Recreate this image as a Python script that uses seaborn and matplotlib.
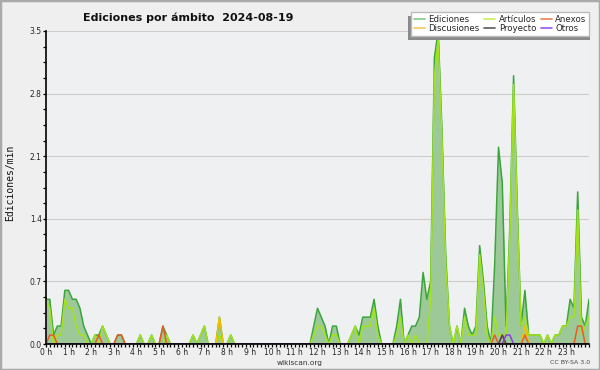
import numpy as np
import pandas as pd
import matplotlib
matplotlib.use('Agg')
import matplotlib.pyplot as plt
from matplotlib.lines import Line2D
from matplotlib.patches import Rectangle
from matplotlib.ticker import MultipleLocator
import seaborn as sns

# Edits per minute, one value every 10 minutes, 0:00 .. 24:00 (145 points).
ediciones = [
    0.5, 0.5, 0.1, 0.2, 0.2, 0.6,    # 0 h
    0.6, 0.5, 0.5, 0.4, 0.2, 0.1,    # 1 h
    0, 0.1, 0.1, 0.2, 0.1, 0,        # 2 h
    0, 0.1, 0.1, 0, 0, 0,            # 3 h
    0, 0.1, 0, 0, 0.1, 0,            # 4 h
    0, 0.2, 0.1, 0, 0, 0,            # 5 h
    0, 0, 0, 0.1, 0, 0.1,            # 6 h
    0.2, 0, 0, 0, 0.3, 0,            # 7 h
    0, 0.1, 0, 0, 0, 0,              # 8 h
    0, 0, 0, 0, 0, 0,                # 9 h
    0, 0, 0, 0, 0, 0,                # 10 h
    0, 0, 0, 0, 0, 0.2,              # 11 h
    0.4, 0.3, 0.2, 0, 0.2, 0.2,      # 12 h
    0, 0, 0, 0.1, 0.2, 0.1,          # 13 h
    0.3, 0.3, 0.3, 0.5, 0.2, 0,      # 14 h
    0, 0, 0, 0.2, 0.5, 0,            # 15 h
    0.1, 0.2, 0.2, 0.3, 0.8, 0.5,    # 16 h
    0.7, 3.2, 3.5, 2.4, 1.0, 0.2,    # 17 h
    0, 0.2, 0, 0.4, 0.2, 0.1,        # 18 h
    0.2, 1.1, 0.7, 0.2, 0, 0.9,      # 19 h
    2.2, 1.8, 0.2, 1.3, 3.0, 1.5,    # 20 h
    0.2, 0.6, 0.1, 0.1, 0.1, 0.1,    # 21 h
    0, 0.1, 0, 0.1, 0.1, 0.2,        # 22 h
    0.2, 0.5, 0.4, 1.7, 0.3, 0.2,    # 23 h
    0.5,
]

articulos = [
    0.5, 0.4, 0, 0.1, 0.1, 0.5,
    0.4, 0.4, 0.2, 0.1, 0.1, 0,
    0, 0.1, 0, 0.2, 0.1, 0,
    0, 0, 0, 0, 0, 0,
    0, 0.1, 0, 0, 0.1, 0,
    0, 0, 0.1, 0, 0, 0,
    0, 0, 0, 0.1, 0, 0.1,
    0.2, 0, 0, 0, 0.1, 0,
    0, 0.1, 0, 0, 0, 0,
    0, 0, 0, 0, 0, 0,
    0, 0, 0, 0, 0, 0,
    0, 0, 0, 0, 0, 0.1,
    0.2, 0.2, 0.1, 0, 0.1, 0.1,
    0, 0, 0, 0.1, 0.2, 0,
    0.2, 0.2, 0.2, 0.4, 0.1, 0,
    0, 0, 0, 0.1, 0.3, 0,
    0.1, 0, 0.1, 0, 0, 0,
    0.5, 3.0, 3.4, 2.3, 0.9, 0.2,
    0, 0.2, 0, 0.3, 0.1, 0.1,
    0.1, 1.0, 0.6, 0.1, 0, 0.3,
    0.1, 0.1, 0.1, 1.2, 2.9, 1.4,
    0.2, 0.3, 0.1, 0.1, 0.1, 0.1,
    0, 0.1, 0, 0.1, 0.1, 0.2,
    0.2, 0.3, 0.3, 1.5, 0.1, 0.2,
    0.3,
]

# sparse series: slot index (10 min) and value
anexos_slots = [1, 2, 14, 19, 20, 31, 119, 121, 127, 141, 142]
anexos_vals = [0.1, 0.1, 0.1, 0.1, 0.1, 0.2, 0.1, 0.1, 0.1, 0.2, 0.2]
discusiones_slots = [46, 127]
discusiones_vals = [0.3, 0.2]
proyecto_slots = [121]
proyecto_vals = [0.1]
otros_slots = [122, 123]
otros_vals = [0.1, 0.1]

hour_labels = [f'{h} h' for h in range(24)]
y_ticks = [0.0, 0.7, 1.4, 2.1, 2.8, 3.5]

palette = {
    'Ediciones': '#3aa53a',
    'Artículos': '#a2e31c',
    'Discusiones': '#f2c200',
    'Anexos': '#ec5a24',
    'Proyecto': '#4a4a4a',
    'Otros': '#8a3ee0',
}
legend_colors = {
    'Ediciones': '#80cc80',
    'Artículos': '#c9ee55',
    'Anexos': '#f08050',
    'Discusiones': '#f2cc55',
    'Proyecto': '#5a5a5a',
    'Otros': '#9a55f0',
}


def _sparse(slots, vals, n):
    out = np.zeros(n)
    out[slots] = vals
    return out


n = len(ediciones)
hora = np.arange(n) / 6.0
wide = pd.DataFrame({
    'hora': hora,
    'Ediciones': ediciones,
    'Artículos': articulos,
    'Discusiones': _sparse(discusiones_slots, discusiones_vals, n),
    'Anexos': _sparse(anexos_slots, anexos_vals, n),
    'Proyecto': _sparse(proyecto_slots, proyecto_vals, n),
    'Otros': _sparse(otros_slots, otros_vals, n),
})
df = wide.melt(id_vars='hora', var_name='serie', value_name='valor')
draw_order = ['Ediciones', 'Artículos', 'Discusiones', 'Anexos', 'Proyecto', 'Otros']

sns.set_theme(style='ticks')
plt.rcParams['font.family'] = ['DejaVu Sans']

fig = plt.figure(figsize=(6, 3.7), dpi=100)
fig.patch.set_facecolor('#efefef')
ax = fig.add_axes([46 / 600, 26 / 370, 543 / 600, 313 / 370])
ax.set_facecolor('#eff0f1')
ax.set_axisbelow(True)

# filled area under total edits
ax.fill_between(wide['hora'], wide['Ediciones'], color='#9dc998', lw=0, zorder=1)

sns.lineplot(data=df, x='hora', y='valor', hue='serie', hue_order=draw_order,
             palette=palette, linewidth=1.1, legend=False, errorbar=None,
             sort=False, ax=ax)

ax.set_xlim(0, 24)
ax.set_ylim(0, 3.5)
ax.set_xlabel('')
ax.set_ylabel('')
ax.set_xticks(range(24))
ax.set_xticklabels(hour_labels)
ax.xaxis.set_minor_locator(MultipleLocator(1 / 6))
ax.set_yticks(y_ticks)
ax.set_yticklabels([f'{v:.1f}' for v in y_ticks])
ax.yaxis.set_minor_locator(MultipleLocator(0.175))
ax.tick_params(axis='both', which='both', direction='out', length=2.4, width=0.9,
               color='black', labelsize=5.5, pad=0.6)
ax.yaxis.grid(True, color='#cccccc', lw=0.8)
ax.xaxis.grid(False)
sns.despine(ax=ax)
for side in ('left', 'bottom'):
    ax.spines[side].set_linewidth(1.2)
    ax.spines[side].set_color('black')

fig.text(0.313, 0.951, 'Ediciones por ámbito  2024-08-19', ha='center',
         va='center', fontsize=8, fontweight='bold', color='#111')
fig.text(0.017, 0.507, 'Ediciones/min', rotation=90, ha='center', va='center',
         family='DejaVu Sans Mono', fontsize=7, color='#111')
fig.text(0.5, 0.019, 'wikiscan.org', ha='center', va='center', fontsize=5.3,
         color='#333')
fig.text(0.983, 0.02, 'CC BY-SA 3.0', ha='right', va='center', fontsize=4.5,
         color='#444')

legend_order = ['Ediciones', 'Discusiones', 'Artículos', 'Proyecto', 'Anexos', 'Otros']
handles = [Line2D([], [], color=legend_colors[k], lw=1.2) for k in legend_order]
leg = ax.legend(handles, legend_order, ncol=3, loc='upper right',
                bbox_to_anchor=(589 / 600, 1 - 12 / 370),
                bbox_transform=fig.transFigure,
                borderaxespad=0, fontsize=6.2, frameon=True, fancybox=False,
                edgecolor='#bbbbbb', facecolor='white', framealpha=1,
                handlelength=1.3, handletextpad=0.4, columnspacing=0.5,
                labelspacing=0.05, borderpad=0.3)
leg.set_zorder(6)

# gray drop shadow to the lower left of the legend box
fig.canvas.draw()
bb = leg.get_window_extent()
ax.add_patch(Rectangle((bb.x0 - 3, bb.y0 - 4), bb.width + 4, bb.height,
                       transform=None, facecolor='#8a8a8a', edgecolor='none',
                       clip_on=False, zorder=5.5))

fig.patches.append(Rectangle((0, 0), 1, 1, transform=fig.transFigure, fill=False,
                             edgecolor='#aaaaaa', lw=2.5))

fig.savefig('out.png', dpi=100, facecolor=fig.get_facecolor())
